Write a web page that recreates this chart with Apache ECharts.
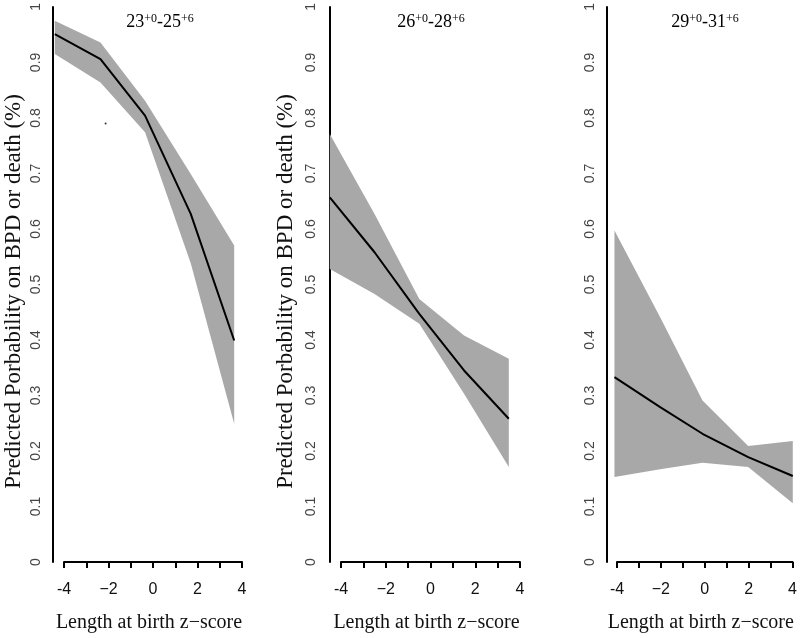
<!DOCTYPE html>
<html>
<head>
<meta charset="utf-8">
<script src="https://cdn.jsdelivr.net/npm/echarts@6/dist/echarts.min.js"></script>
<style>html,body{margin:0;padding:0;background:#fff}#c{width:800px;height:638px}</style>
</head>
<body>
<div id="c"></div>
<script>
// ---- data ----
const yTicks = ['0','0.1','0.2','0.3','0.4','0.5','0.6','0.7','0.8','0.9','1'];
const xTickLabels = {'-4':'-4','-2':'\u22122','0':'0','2':'2','4':'4'};
const yTitle = 'Predicted Porbability on BPD or death (%)';
const xTitle = 'Length at birth z\u2212score';
const panelTitles = [['23','+0','-25','+6'],['26','+0','-28','+6'],['29','+0','-31','+6']];

const p1X = [-4.4, -2.35, -0.35, 1.7, 3.65];
const p1Fit = [0.951, 0.906, 0.804, 0.627, 0.399];
const p1Upper = [0.975, 0.936, 0.831, 0.699, 0.570];
const p1Lower = [0.915, 0.864, 0.774, 0.538, 0.249];
const p1Dot = [[-2.12, 0.79]];

const p2X = [-4.5, -2.5, -0.5, 1.5, 3.5];
const p2Fit = [0.657, 0.558, 0.447, 0.345, 0.258];
const p2Upper = [0.771, 0.627, 0.474, 0.408, 0.366];
const p2Lower = [0.528, 0.483, 0.429, 0.303, 0.171];

const p3X = [-4.1, -2.05, -0.15, 1.9, 3.9];
const p3Fit = [0.333, 0.279, 0.231, 0.189, 0.155];
const p3Upper = [0.597, 0.441, 0.291, 0.209, 0.218];
const p3Lower = [0.153, 0.167, 0.179, 0.171, 0.106];

// ---- layout ----
const TOP = 6, BOTTOM_Y = 562, H = BOTTOM_Y - TOP;
const panels = [
  {x: p1X, fit: p1Fit, up: p1Upper, lo: p1Lower, left: 53, right: 242, xmin: -4.48, tickLeft: 64, labelMargin: 10, nameGap: 28, showName: true, titleX: 155},
  {x: p2X, fit: p2Fit, up: p2Upper, lo: p2Lower, left: 330, right: 520, xmin: -4.49, tickLeft: 341, labelMargin: 12, nameGap: 33, showName: true, titleX: 426},
  {x: p3X, fit: p3Fit, up: p3Upper, lo: p3Lower, left: 607, right: 795, xmin: -4.435, tickLeft: 617, labelMargin: 10, nameGap: 30, showName: false, titleX: 700}
];

const BAND = '#a8a8a8';
const grid = [], xAxis = [], yAxis = [], series = [], title = [];

panels.forEach((p, i) => {
  const gData = grid.length;
  grid.push({left: p.left, top: TOP, width: p.right - p.left, height: H});
  xAxis.push({type: 'value', gridIndex: gData, min: p.xmin, max: 4, show: false});
  yAxis.push({
    type: 'value', gridIndex: gData, min: 0, max: 1, interval: 0.1,
    axisLine: {show: true, onZero: false, lineStyle: {color: '#000', width: 2}},
    axisTick: {show: false}, splitLine: {show: false},
    axisLabel: {rotate: 90, margin: p.labelMargin, color: '#444', fontFamily: 'Liberation Sans', fontSize: 14,
      formatter: v => yTicks[Math.round(v * 10)]},
    name: p.showName ? yTitle : '', nameLocation: 'middle', nameGap: p.nameGap,
    nameTextStyle: {fontFamily: 'Liberation Serif', fontSize: 23, color: '#111', padding: [0, 14, 0, 0]}
  });
  // display x axis in its own grid
  const gAx = grid.length;
  grid.push({left: p.tickLeft, top: TOP, width: p.right - p.tickLeft, height: H});
  xAxis.push({
    type: 'value', gridIndex: gAx, min: -4, max: 4, interval: 1,
    axisLine: {show: true, onZero: false, lineStyle: {color: '#000', width: 2}},
    axisTick: {show: true, length: 6, lineStyle: {color: '#000', width: 2}},
    splitLine: {show: false},
    axisLabel: {margin: 20, color: '#111', fontFamily: 'Liberation Sans', fontSize: 16, showMinLabel: true, showMaxLabel: true,
      formatter: v => xTickLabels[String(v)] || ''},
    name: xTitle, nameLocation: 'middle', nameGap: 51,
    nameTextStyle: {fontFamily: 'Liberation Serif', fontSize: 20, color: '#111', padding: [0, 8, 0, 0]}
  });
  yAxis.push({type: 'value', gridIndex: gAx, min: 0, max: 1, show: false});

  const xi = gData, yi = gData;
  // confidence band as a polygon through the axis scales
  series.push({
    type: 'custom', xAxisIndex: xi, yAxisIndex: yi, silent: true, z: 2,
    data: p.x.map((x, k) => [x, p.lo[k], p.up[k]]),
    renderItem: (params, api) => {
      if (params.dataIndex !== 0) return null;
      const upper = p.x.map((x, k) => api.coord([x, p.up[k]]));
      const lower = p.x.map((x, k) => api.coord([x, p.lo[k]])).reverse();
      return {type: 'polygon', shape: {points: upper.concat(lower)}, style: {fill: BAND, stroke: null}};
    }
  });
  series.push({
    type: 'line', xAxisIndex: xi, yAxisIndex: yi, symbol: 'none', silent: true, z: 5,
    lineStyle: {color: '#000', width: 2}, data: p.x.map((x, k) => [x, p.fit[k]])
  });
  if (i === 0) {
    series.push({type: 'scatter', xAxisIndex: xi, yAxisIndex: yi, symbolSize: 2, itemStyle: {color: '#000'}, data: p1Dot, silent: true});
  }
  const t = panelTitles[i];
  title.push({
    text: `{n|${t[0]}}{s|${t[1]}}{n|${t[2]}}{s|${t[3]}}`,
    left: p.titleX, top: 8, textAlign: 'center',
    textStyle: {fontWeight: 'normal', rich: {
      n: {fontFamily: 'Liberation Serif', fontSize: 18, fontWeight: 'normal', color: '#000', verticalAlign: 'bottom'},
      s: {fontFamily: 'Liberation Serif', fontSize: 12, fontWeight: 'normal', color: '#000', verticalAlign: 'top'}
    }}
  });
});

const chart = echarts.init(document.getElementById('c'), null, {renderer: 'canvas'});
chart.setOption({animation: false, backgroundColor: '#fff', title, grid, xAxis, yAxis, series});
</script>
</body>
</html>
